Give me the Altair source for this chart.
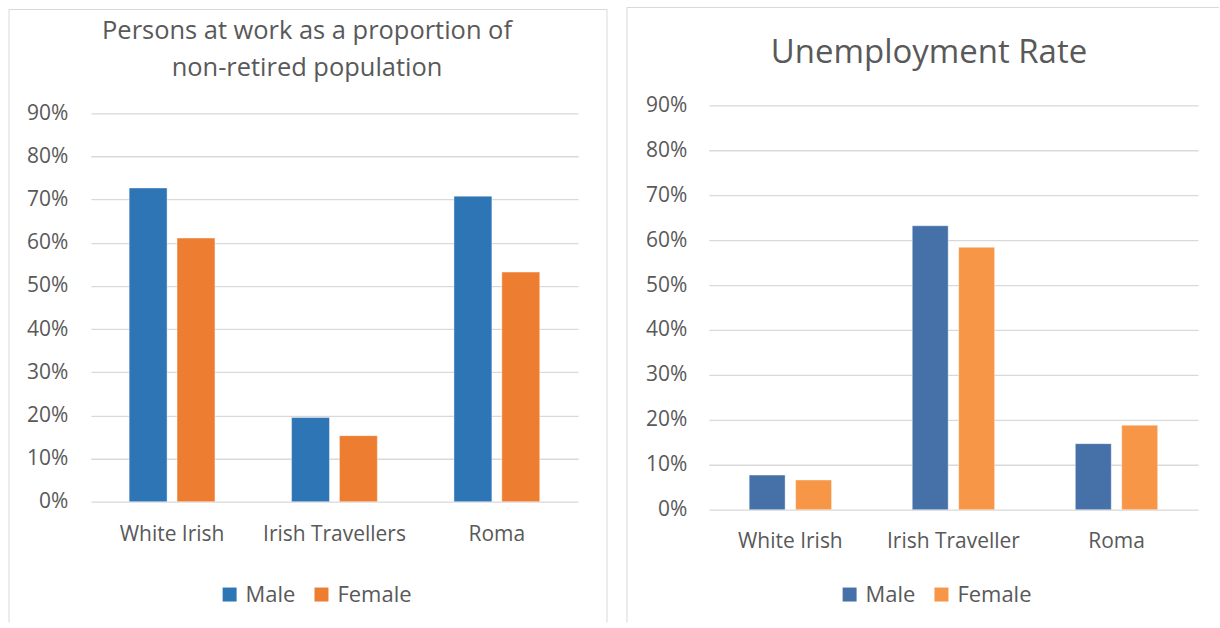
import altair as alt
import pandas as pd

# ---- data ----
categories_left = ["White Irish", "Irish Travellers", "Roma"]
categories_right = ["White Irish", "Irish Traveller", "Roma"]
series = ["Male", "Female"]
male_at_work = [0.727, 0.195, 0.708]
female_at_work = [0.611, 0.153, 0.532]
male_unemployment = [0.077, 0.632, 0.147]
female_unemployment = [0.066, 0.584, 0.188]
y_ticks = [0.0, 0.1, 0.2, 0.3, 0.4, 0.5, 0.6, 0.7, 0.8, 0.9]
title_left = ["Persons at work as a proportion of", "non-retired population"]
title_right = ["Unemployment Rate"]
colors_left = ["#2E75B6", "#ED7D31"]
colors_right = ["#4571A8", "#F79646"]

FONT = "Open Sans"
TXT = "#595959"
GRID = "#D9D9D9"
dummy = pd.DataFrame({"d": [0]})


def panel(cats, male, female, colors, title, title_size, title_x, title_y,
          w, h, yscale, ylab_pad, xlab_pad, off_inner, off_outer,
          legend_x, legend_y, border):
    df = pd.DataFrame({
        "Group": cats * 2,
        "Sex": ["Male"] * len(cats) + ["Female"] * len(cats),
        "Value": male + female,
    })
    bars = alt.Chart(df).mark_bar(stroke="white", strokeWidth=0.8, strokeOpacity=0.5).encode(
        x=alt.X("Group:N", sort=cats,
                scale=alt.Scale(paddingInner=0, paddingOuter=0),
                axis=alt.Axis(title=None, labelAngle=0, labelFont=FONT, labelFontSize=21,
                              labelColor=TXT, labelPadding=xlab_pad, ticks=False,
                              domain=False, grid=False, labelBaseline="top")),
        xOffset=alt.XOffset("Sex:N", sort=series,
                            scale=alt.Scale(paddingInner=off_inner, paddingOuter=off_outer)),
        y=alt.Y("Value:Q", scale=yscale,
                axis=alt.Axis(title=None, values=y_ticks, format=".0%", grid=True,
                              gridColor=GRID, gridWidth=1.3, domain=False, ticks=False,
                              tickSize=0, labelPadding=ylab_pad, labelFont=FONT,
                              labelFontSize=21, labelColor=TXT)),
        color=alt.Color("Sex:N", sort=series,
                        scale=alt.Scale(domain=series, range=colors),
                        legend=alt.Legend(orient="none", legendX=legend_x, legendY=legend_y,
                                          direction="horizontal", title=None,
                                          symbolType="square", symbolSize=196,
                                          symbolStrokeWidth=0, labelFont=FONT,
                                          labelFontSize=22, labelColor=TXT, labelOffset=5,
                                          columnPadding=15, padding=0)),
    )
    ttl = alt.Chart(dummy).mark_text(
        text=title, font=FONT, fontSize=title_size, color=TXT, align="center",
        baseline="alphabetic", lineHeight=37,
    ).encode(x=alt.value(title_x), y=alt.value(title_y))

    bl, bt, br, bb, right_side = border
    layers = [bars, ttl]
    layers.append(alt.Chart(dummy).mark_rule(color=GRID, strokeWidth=1).encode(
        x=alt.value(bl), y=alt.value(bt), y2=alt.value(bb)))
    layers.append(alt.Chart(dummy).mark_rule(color=GRID, strokeWidth=1).encode(
        x=alt.value(bl), x2=alt.value(br), y=alt.value(bt)))
    if right_side:
        layers.append(alt.Chart(dummy).mark_rule(color=GRID, strokeWidth=1).encode(
            x=alt.value(br), y=alt.value(bt), y2=alt.value(bb)))
    return alt.layer(*layers).properties(width=w, height=h)


left = panel(categories_left, male_at_work, female_at_work, colors_left, title_left,
             25.5, 216.5, -66, 488, 397,
             alt.Scale(domain=[0, 0.9], range=[397, 8], nice=False),
             23, 22, 0.208, 0.8, 128, 479, (-82, -96, 517, 518, True))

right = panel(categories_right, male_unemployment, female_unemployment, colors_right,
              title_right, 33, 220.5, -42, 490, 405,
              alt.Scale(domain=[0, 0.9], nice=False),
              22, 21, 0.226, 0.869, 130, 479, (-82, -98, 511, 518, False))

chart = alt.hconcat(left, right, spacing=18).resolve_scale(
    color="independent", x="independent", y="independent", xOffset="independent"
).properties(
    padding={"left": 8, "top": 6, "right": 0, "bottom": 0},
    background="white",
).configure_view(stroke=None)

chart.save("out.html", embed_options={"renderer": "svg", "actions": False})
